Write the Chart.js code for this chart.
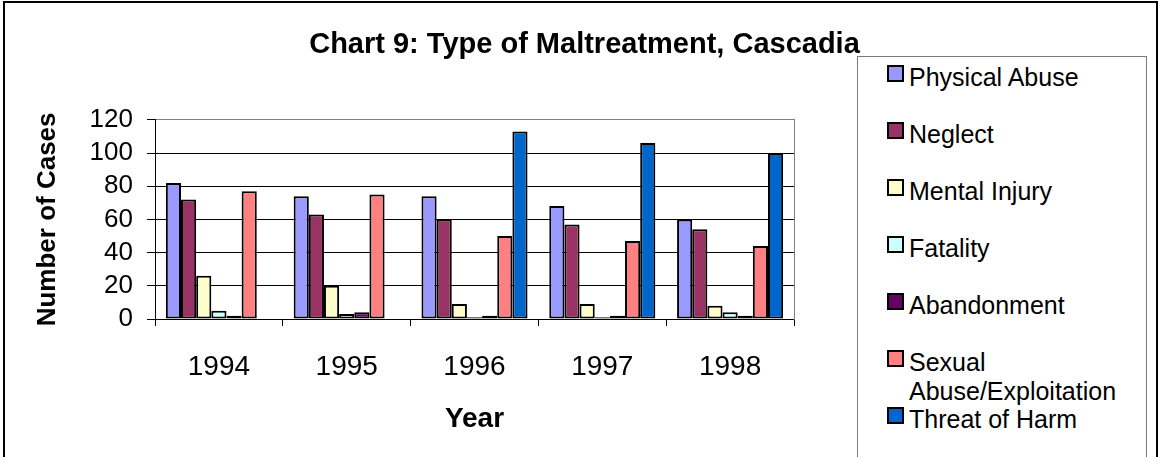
<!DOCTYPE html>
<html>
<head>
<meta charset="utf-8">
<script src="https://cdn.jsdelivr.net/npm/chart.js@4/dist/chart.umd.min.js"></script>
<style>
  html, body { margin: 0; padding: 0; background: #fff; overflow: hidden; }
  #frame { position: absolute; left: 3px; top: 1px; width: 1151px; height: 520px; border: 2px solid #000; }
  #wrap { position: absolute; left: 0; top: 0; width: 1159px; height: 457px; }
  #legend {
    position: absolute; left: 857px; top: 56px; width: 288px; height: 440px;
    border: 1px solid #7a7a7a; background: #fff;
    font-family: "Liberation Sans", Arial, sans-serif; font-size: 25px; color: #000;
  }
  .item { position: absolute; left: 0; width: 286px; line-height: 28.5px; }
  .dot { position: absolute; left: 29px; top: 2px; width: 13px; height: 13px; border: 2px solid #000; }
  .txt { position: absolute; left: 51px; right: 4px; }
</style>
</head>
<body>
<div id="frame"></div>
<div id="wrap"><canvas id="c"></canvas></div>
<div id="legend"></div>
<script>
const years = ["1994", "1995", "1996", "1997", "1998"];
const seriesNames = ["Physical Abuse", "Neglect", "Mental Injury", "Fatality", "Abandonment", "Sexual Abuse/Exploitation", "Threat of Harm"];
const seriesColors = ["#9999FF", "#993366", "#FFFFCC", "#CCFFFF", "#660066", "#FF8080", "#0066CC"];

const physicalAbuse = [82, 74, 74, 68, 60];
const neglect = [72, 63, 60, 57, 54];
const mentalInjury = [26, 20, 9, 9, 8];
const fatality = [5, 3, 1, 1, 4];
const abandonment = [2, 4, 2, 2, 2];
const sexualAbuse = [77, 75, 50, 47, 44];
const threatOfHarm = [0, 0, 113, 106, 100];

const yTicks = [0, 20, 40, 60, 80, 100, 120];

const FONT = '"Liberation Sans", Arial, sans-serif';
const seriesValues = [physicalAbuse, neglect, mentalInjury, fatality, abandonment, sexualAbuse, threatOfHarm];

const chart = new Chart(document.getElementById("c"), {
  type: "bar",
  data: {
    labels: years,
    datasets: seriesNames.map((name, i) => ({
      label: name,
      data: seriesValues[i],
      backgroundColor: seriesColors[i],
      borderColor: "#000",
      borderWidth: 2,
      borderSkipped: false,
      barPercentage: 1,
      categoryPercentage: 0.83,
    })),
  },
  options: {
    responsive: true,
    maintainAspectRatio: false,
    animation: false,
    layout: { padding: { left: 10, right: 0, top: 0, bottom: 0 } },
    plugins: {
      legend: { display: false },
      tooltip: { enabled: false },
      title: {
        display: true,
        text: "Chart 9: Type of Maltreatment, Cascadia",
        color: "#000",
        font: { family: FONT, size: 29, weight: "bold" },
        padding: { top: 28, bottom: 57 },
      },
    },
    scales: {
      x: {
        grid: { drawOnChartArea: false, drawTicks: true, tickLength: 7, color: "#000", offset: true },
        border: { color: "#000", width: 1 },
        ticks: { color: "#000", font: { family: FONT, size: 28 }, padding: 24 },
        title: {
          display: true, text: "Year", color: "#000",
          font: { family: FONT, size: 28, weight: "bold" },
          padding: { top: 0, bottom: 21 },
        },
        afterFit: (s) => { s.height = 138; },
      },
      y: {
        min: 0, max: 120,
        afterBuildTicks: (s) => { s.ticks = yTicks.map((v) => ({ value: v })); },
        grid: {
          color: (ctx) => (ctx.tick && ctx.tick.value === 120 ? "#808080" : "#000"),
          tickColor: "#000",
          tickLength: 8,
          lineWidth: 1,
        },
        border: { color: "#000", width: 1 },
        ticks: { color: "#000", font: { family: FONT, size: 26 }, padding: 14, autoSkip: false },
        title: {
          display: true, text: "Number of Cases", color: "#000",
          font: { family: FONT, size: 26, weight: "bold" },
          padding: { top: 22, bottom: 0 },
        },
        afterFit: (s) => { s.width = 145; },
      },
      yR: {
        position: "right",
        min: 0, max: 120,
        ticks: { display: false },
        grid: { drawOnChartArea: false, drawTicks: false },
        border: { color: "#808080", width: 1 },
        afterFit: (s) => { s.width = 365; },
      },
    },
  },
});

// legend beside the chart, built from the datasets
const legendRoot = document.getElementById("legend");
chart.data.datasets.forEach((ds, i) => {
  const item = document.createElement("div");
  item.className = "item";
  item.style.top = (5.7 + i * 57.1) + "px";
  const dot = document.createElement("span");
  dot.className = "dot";
  dot.style.backgroundColor = ds.backgroundColor;
  const txt = document.createElement("span");
  txt.className = "txt";
  txt.textContent = ds.label;
  item.appendChild(dot);
  item.appendChild(txt);
  legendRoot.appendChild(item);
});
</script>
</body>
</html>
